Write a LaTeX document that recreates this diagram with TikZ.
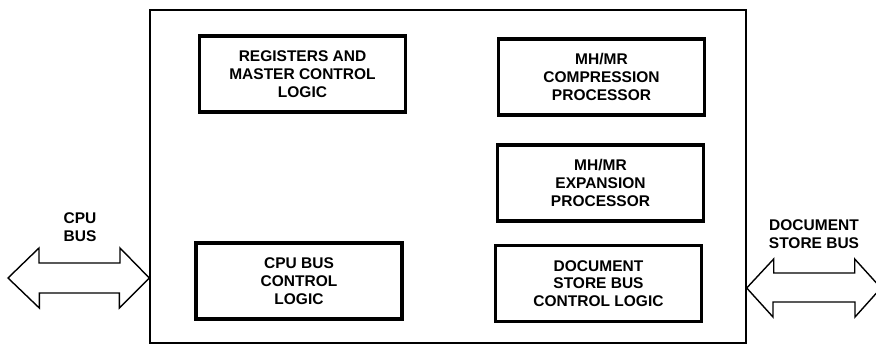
\documentclass[tikz,border=0pt]{standalone}
\usepackage{fontspec}
\setmainfont{Liberation Sans}
\usetikzlibrary{positioning}
\tikzset{
  unit/.style={draw, line width=3.2pt, minimum width=206pt, minimum height=76pt,
    inner sep=0pt, align=center, font=\bfseries\fontsize{15.5}{17.8}\selectfont},
  buslabel/.style={align=center, font=\bfseries\fontsize{15.5}{18}\selectfont},
  busarrow/.style={draw, line width=1.4pt, line join=miter, fill=white}
}
\begin{document}
\begin{tikzpicture}[x=1pt, y=-1pt]
  \useasboundingbox (0,0) rectangle (876,347);
  % outer chip
  \node[draw, line width=1.4pt, minimum width=596pt, minimum height=333pt, inner sep=0pt]
    (chip) at (448,176.5) {};
  % function units
  \node[unit] (regs) at (302.5,74) {REGISTERS AND\\MASTER CONTROL\\LOGIC};
  \node[unit] (cpuctl) at (299,281) {CPU BUS\\CONTROL\\LOGIC};
  \node[unit] (comp) at (601.5,77) {MH/MR\\COMPRESSION\\PROCESSOR};
  \node[unit] (expn) at (600.5,183) {MH/MR\\EXPANSION\\PROCESSOR};
  \node[unit] (docctl) at (598.5,283.5) {DOCUMENT\\STORE BUS\\CONTROL LOGIC};
  % buses
  \coordinate (cpuend) at (8,278);
  \coordinate (docend) at (881,288);
  \draw[busarrow] (cpuend) -- ++(31,-30) -- ++(0,15) -- ++(81,0) -- ++(0,-15)
    -- (chip.west |- cpuend) -- ++(-30,30) -- ++(0,-15) -- ++(-80,0) -- ++(0,15) -- cycle;
  \draw[busarrow] (chip.east |- docend) -- ++(27,-29) -- ++(0,14) -- ++(81,0) -- ++(0,-14)
    -- (docend) -- ++(-26,29) -- ++(0,-15) -- ++(-82,0) -- ++(0,15) -- cycle;
  \node[buslabel] (cpulbl) at (80,227) {CPU\\BUS};
  \node[buslabel] (doclbl) at (814,234) {DOCUMENT\\STORE BUS};
\end{tikzpicture}
\end{document}
